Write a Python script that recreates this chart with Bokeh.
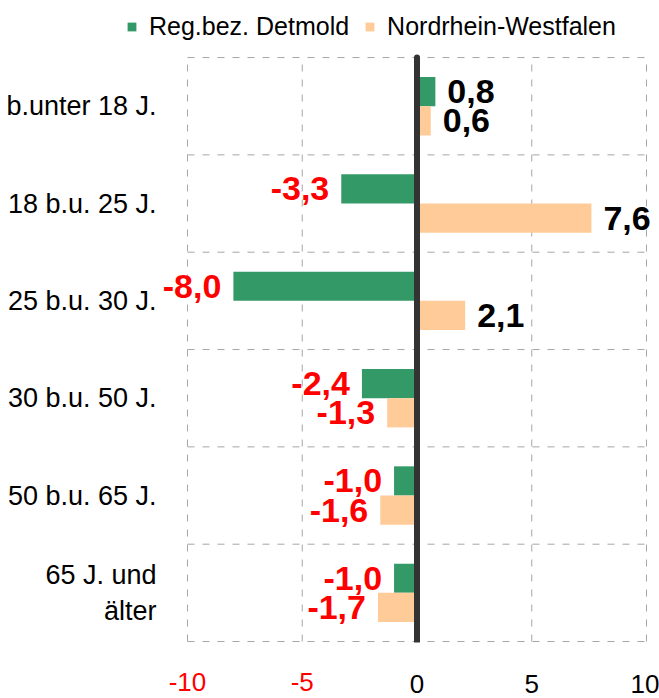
from bokeh.plotting import figure
from bokeh.models import (ColumnDataSource, Range1d, FixedTicker, LinearAxis,
                          LabelSet, Legend, LegendItem)
from bokeh.embed import file_html
from bokeh.resources import INLINE
from bokeh.core.properties import value, field

# ---- data ----
categories = ["b.unter 18 J.", "18 b.u. 25 J.", "25 b.u. 30 J.",
              "30 b.u. 50 J.", "50 b.u. 65 J.", "65 J. und\nälter"]
detmold = [0.8, -3.3, -8.0, -2.4, -1.0, -1.0]
nrw = [0.6, 7.6, 2.1, -1.3, -1.6, -1.7]
x_ticks = [-10, -5, 0, 5, 10]
series_names = ["Reg.bez. Detmold", "Nordrhein-Westfalen"]

GREEN = "#339966"
PEACH = "#FFCC99"
GRID = "#A6A6A6"
FONT = "Liberation Sans"
DASH = "7 8"
DODGE = 0.15
BAR_H = 0.3

ncat = len(categories)
y_pos = [ncat - i - 0.5 for i in range(ncat)]   # first category on top


def fmt(v):
    return f"{v:.1f}".replace(".", ",")


def cols(vals, off):
    return dict(
        y=[y + off for y in y_pos],
        txt=[fmt(v) for v in vals],
        col=["#000000" if v >= 0 else "#FF0000" for v in vals],
        align=["left" if v >= 0 else "right" for v in vals],
        xoff=[12 if v >= 0 else -12 for v in vals],
    )


d = cols(detmold, DODGE)
n = cols(nrw, -DODGE)
src = ColumnDataSource(dict(
    cat=categories, det=detmold, nrw=nrw,
    det_y=d["y"], det_txt=d["txt"], det_col=d["col"], det_align=d["align"], det_off=d["xoff"],
    nrw_y=n["y"], nrw_txt=n["txt"], nrw_col=n["col"], nrw_align=n["align"], nrw_off=n["xoff"],
))

# frame covers legend area and label overhang; the chart area itself is x -10..10, y 0..6
p = figure(width=659, height=698,
           x_range=Range1d(x_ticks[0] - 3.442, x_ticks[-1] + 0.566),
           y_range=Range1d(-0.01, ncat + 0.586),
           x_axis_location=None, y_axis_location=None,
           output_backend="svg", toolbar_location=None,
           min_border_left=108, min_border_top=0, min_border_right=0, min_border_bottom=56)

p.background_fill_color = "white"
p.border_fill_color = "white"
p.outline_line_color = None
p.grid.visible = False

# dashed grid / chart border, limited to the chart area
bounds = list(range(ncat + 1))
p.segment(x0=[x_ticks[0]] * len(bounds), x1=[x_ticks[-1]] * len(bounds),
          y0=bounds, y1=bounds, line_color=GRID, line_dash=DASH, line_width=1)
p.segment(x0=x_ticks, x1=x_ticks, y0=[0] * len(x_ticks), y1=[ncat] * len(x_ticks),
          line_color=GRID, line_dash=DASH, line_width=1)

# bars
r1 = p.hbar(y="det_y", left=0, right="det", height=BAR_H,
            fill_color=GREEN, line_color=None, source=src)
r2 = p.hbar(y="nrw_y", left=0, right="nrw", height=BAR_H,
            fill_color=PEACH, line_color=None, source=src)

# zero line
p.segment(x0=[0], x1=[0], y0=[0], y1=[ncat], line_color="#333333", line_width=6,
          line_cap="round")

# value labels
for key in ("det", "nrw"):
    ls = LabelSet(x=key, y=f"{key}_y", text=f"{key}_txt",
                  source=src, text_color=field(f"{key}_col"), text_align=field(f"{key}_align"),
                  x_offset=field(f"{key}_off"), y_offset=0,
                  text_baseline="middle", text_font=value(FONT),
                  text_font_style="bold", text_font_size="34px")
    p.add_layout(ls)

# y axis (categories)
ya = LinearAxis(ticker=FixedTicker(ticks=y_pos),
                major_label_overrides={y: c for y, c in zip(y_pos, categories)},
                axis_line_color=None, major_tick_line_color=None, minor_tick_line_color=None,
                major_label_standoff=-54, major_label_text_font=FONT,
                major_label_text_font_size="27px", major_label_text_color="#000000")
p.add_layout(ya, "left")

# x axes: positive (black) and negative (red) ticks on the same row
tick_text = {t: str(t) for t in x_ticks}
ax_pos = LinearAxis(ticker=FixedTicker(ticks=[t for t in x_ticks if t >= 0]),
                    major_label_overrides=tick_text,
                    axis_line_color=None, major_tick_line_color=None, minor_tick_line_color=None,
                    major_label_standoff=26, major_label_text_font=FONT,
                    major_label_text_font_size="26px", major_label_text_color="#000000")
ax_neg = LinearAxis(ticker=FixedTicker(ticks=[t for t in x_ticks if t < 0]),
                    major_label_overrides=tick_text,
                    axis_line_color=None, major_tick_line_color=None, minor_tick_line_color=None,
                    major_label_standoff=-29, major_label_text_font=FONT,
                    major_label_text_font_size="26px", major_label_text_color="#FF0000")
p.add_layout(ax_pos, "below")
p.add_layout(ax_neg, "below")

# legend (inside the frame, above the chart area)
legend = Legend(items=[LegendItem(label=series_names[0], renderers=[r1]),
                       LegendItem(label=series_names[1], renderers=[r2])],
                orientation="horizontal", location=(18, 601), padding=0, margin=0,
                border_line_color=None, background_fill_alpha=0,
                glyph_width=11, glyph_height=11, label_standoff=12, spacing=15,
                label_text_font=FONT, label_text_font_size="25px",
                label_text_color="#000000")
p.add_layout(legend, "center")

open("out.html", "w").write(file_html(p, INLINE))
